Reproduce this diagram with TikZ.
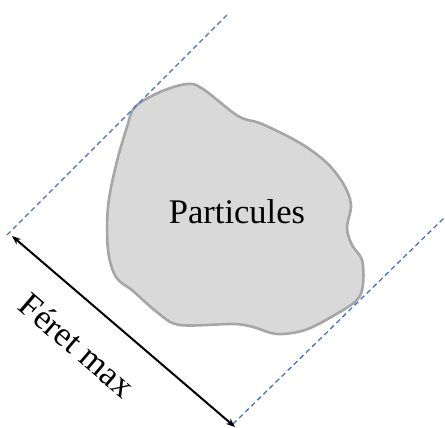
\documentclass[tikz,border=0pt]{standalone}
\usepackage{fontspec}
\setmainfont{Liberation Serif}
\usetikzlibrary{arrows.meta}

\begin{document}
\begin{tikzpicture}
    [x=1pt, y=-1pt,
    feret/.style={line width=2pt, {Stealth[length=9pt,width=7pt]}-{Stealth[length=9pt,width=7pt]}},
    tangent/.style={color={rgb,255:red,68;green,114;blue,196}, line width=1.3pt, dash pattern=on 5pt off 3.5pt},
    grain/.style={fill={rgb,255:red,217;green,217;blue,217}, draw={rgb,255:red,166;green,166;blue,166}, line width=2.6pt},
    label/.style={font=\fontsize{34.5}{40}\selectfont}]
        \useasboundingbox (0,0) rectangle (445,428);

        \draw[grain] plot[smooth cycle, tension=0.55] coordinates {
            (135,107) (160,92) (187,84) (203,89) (238,116) (262,124)
            (300,143) (327,163) (344,185) (351,205) (347,228) (352,245)
            (362,260) (363,284) (357,300) (333,316) (305,330) (277,334)
            (253,327) (233,324) (180,325) (158,313) (133,291) (116,277)
            (108,250) (108,207) (116,165) (127,127)};
        \node[label] (P) at (237,212) {Particules};

        \coordinate (T1) at (7,235);
        \coordinate (T2) at (228,14);
        \coordinate (U1) at (233,424);
        \coordinate (U2) at (445,217);
        \coordinate (A) at (12,236);
        \coordinate (B) at (235,427);

        \draw[tangent] (T1) -- (T2);
        \draw[tangent] (U1) -- (U2);
        \draw[feret] (A) -- node[label, sloped, below=24pt, pos=0.41] (F) {Féret max} (B);
   \end{tikzpicture}
\end{document}
